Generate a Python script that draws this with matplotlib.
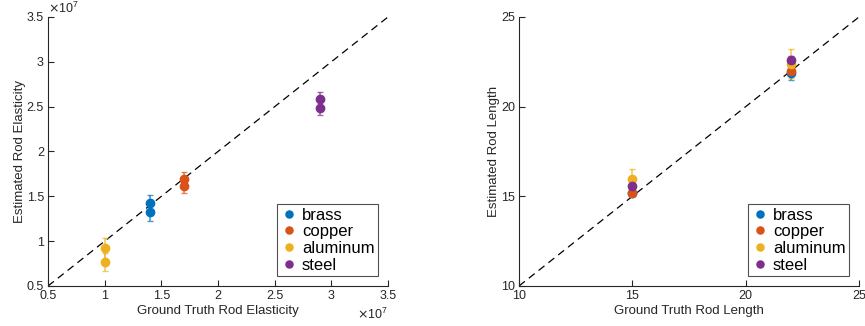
import matplotlib
matplotlib.use("Agg")
import matplotlib.pyplot as plt
from matplotlib.ticker import ScalarFormatter

plt.rcParams['font.family'] = ['Liberation Sans', 'DejaVu Sans']

materials = ["brass", "copper", "aluminum", "steel"]
colors = ["#0072BD", "#D95319", "#EDB120", "#7E2F8E"]

# Elasticity (units of 1e7)
elast_true = [1.4, 1.7, 1.0, 2.9]
elast_est = [[1.43, 1.32], [1.695, 1.62], [0.92, 0.77], [2.59, 2.48]]
elast_err = [[0.09, 0.09], [0.08, 0.08], [0.12, 0.10], [0.07, 0.07]]

# Length
length_true = [15, 22]
length_est = {
    "brass": [15.18, 21.87],
    "copper": [15.21, 22.0],
    "aluminum": [15.96, 22.4],
    "steel": [15.6, 22.62],
}
length_err = {
    "brass": [0.15, 0.37],
    "copper": [0.15, 0.25],
    "aluminum": [0.55, 0.8],
    "steel": [0.15, 0.2],
}


class GFormatter(ScalarFormatter):
    def _set_format(self):
        self.format = '%g'


fig = plt.figure(figsize=(8.65, 3.26), dpi=100)
ax1 = fig.add_axes([0.0555, 0.1227, 0.3931, 0.8253])
ax2 = fig.add_axes([0.600, 0.1227, 0.3931, 0.8253])

tick_color = "#262626"

def style(ax):
    for s in ["top", "right"]:
        ax.spines[s].set_visible(False)
    for s in ["left", "bottom"]:
        ax.spines[s].set_color(tick_color)
        ax.spines[s].set_linewidth(0.8)
    ax.tick_params(direction="in", length=4, width=0.8, colors=tick_color, labelsize=9, pad=3)

def make_legend(ax):
    leg = ax.legend(loc="lower right", fontsize=12, frameon=True, fancybox=False, handletextpad=0.3,
                    handlelength=1.0, borderpad=0.2, labelspacing=0.1, borderaxespad=0.6, markerscale=0.85)
    leg.get_frame().set_edgecolor("#262626")
    leg.get_frame().set_linewidth(0.8)
    return leg

# Left
scale = 1e7
ax1.plot([0.5 * scale, 3.5 * scale], [0.5 * scale, 3.5 * scale], "k--", lw=0.9, dashes=(6, 4), zorder=1)
for i, m in enumerate(materials):
    xs = [elast_true[i] * scale] * 2
    ys = [v * scale for v in elast_est[i]]
    es = [v * scale for v in elast_err[i]]
    ax1.errorbar(xs, ys, yerr=es, fmt="none", ecolor=colors[i], alpha=0.7, capsize=2.5, elinewidth=1.2, zorder=2)
    ax1.plot(xs, ys, "o", color=colors[i], ms=6, label=m, zorder=3, ls="none")
ax1.set_xlim(0.5 * scale, 3.5 * scale)
ax1.set_ylim(0.5 * scale, 3.5 * scale)
ticks = [v * scale for v in [0.5, 1, 1.5, 2, 2.5, 3, 3.5]]
ax1.set_xticks(ticks)
ax1.set_yticks(ticks)
for axis in [ax1.xaxis, ax1.yaxis]:
    fmt = GFormatter(useMathText=True)
    fmt.set_scientific(True)
    fmt.set_powerlimits((0, 0))
    axis.set_major_formatter(fmt)
ax1.xaxis.get_offset_text().set_color("#555555")
ax1.yaxis.get_offset_text().set_color("#555555")
ax1.xaxis.get_offset_text().set_fontsize(9)
ax1.yaxis.get_offset_text().set_fontsize(9)
ax1.set_xlabel("Ground Truth Rod Elasticity", fontsize=9.5, color=tick_color, labelpad=2)
ax1.set_ylabel("Estimated Rod Elasticity", fontsize=9.5, color=tick_color, labelpad=0.5)
style(ax1)
make_legend(ax1)

# Right
ax2.plot([10, 25], [10, 25], "k--", lw=0.9, dashes=(6, 4), zorder=1)
for i, m in enumerate(materials):
    ax2.errorbar(length_true, length_est[m], yerr=length_err[m], fmt="none", ecolor=colors[i], alpha=0.7,
                 capsize=2.5, elinewidth=1.2, zorder=2)
    ax2.plot(length_true, length_est[m], "o", color=colors[i], ms=6, label=m, zorder=3, ls="none")
ax2.set_xlim(10, 25)
ax2.set_ylim(10, 25)
ax2.set_xticks([10, 15, 20, 25])
ax2.set_yticks([10, 15, 20, 25])
ax2.set_xlabel("Ground Truth Rod Length", fontsize=9.5, color=tick_color, labelpad=2)
ax2.set_ylabel("Estimated Rod Length", fontsize=9.5, color=tick_color, labelpad=0.5)
style(ax2)
make_legend(ax2)

fig.savefig("out.png", dpi=100)
